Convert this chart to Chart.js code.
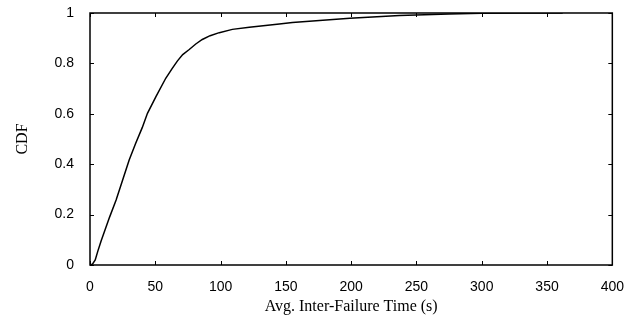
<!DOCTYPE html>
<html>
<head>
<meta charset="utf-8">
<script src="https://cdn.jsdelivr.net/npm/chart.js@4/dist/chart.umd.min.js"></script>
<style>
  html, body { margin: 0; padding: 0; background: #fff; }
  #wrap { width: 630px; height: 320px; }
</style>
</head>
<body>
<div id="wrap"><canvas id="cdf-chart"></canvas></div>
<script>
// CDF of avg inter-failure time
const failTimes = [0.8, 2, 4, 6, 8.5, 15, 20, 25, 30, 35, 40, 44, 50.5, 58, 63, 67, 71, 76, 81, 86, 92, 99, 109, 122, 145, 155, 199, 237, 275, 300, 330, 362];
const cdfValues = [0, 0.004, 0.02, 0.055, 0.095, 0.19, 0.258, 0.337, 0.417, 0.483, 0.545, 0.602, 0.668, 0.741, 0.78, 0.81, 0.835, 0.855, 0.877, 0.895, 0.91, 0.922, 0.935, 0.943, 0.956, 0.962, 0.979, 0.99, 0.996, 0.999, 1, 1];
const xTicks = [0, 50, 100, 150, 200, 250, 300, 350, 400];
const yTicks = [0, 0.2, 0.4, 0.6, 0.8, 1];

// box around the plot with inward ticks on every side (gnuplot look)
const frameBox = {
    id: 'frameBox',
    afterDraw(chart) {
        const { ctx, chartArea: a, scales } = chart;
        const len = 4;
        ctx.save();
        ctx.strokeStyle = '#000';
        ctx.lineWidth = 1;
        ctx.beginPath();
        xTicks.forEach(v => {
            const px = Math.round(scales.x.getPixelForValue(v)) + 0.5;
            ctx.moveTo(px, a.bottom); ctx.lineTo(px, a.bottom - len);
            ctx.moveTo(px, a.top); ctx.lineTo(px, a.top + len);
        });
        yTicks.forEach(v => {
            const py = Math.round(scales.y.getPixelForValue(v)) + 0.5;
            ctx.moveTo(a.left, py); ctx.lineTo(a.left + len, py);
            ctx.moveTo(a.right, py); ctx.lineTo(a.right - len, py);
        });
        ctx.stroke();
        ctx.lineWidth = 1.5;
        ctx.strokeRect(a.left, a.top, a.right - a.left, a.bottom - a.top);
        ctx.restore();
    }
};

new Chart(document.getElementById('cdf-chart'), {
    type: 'line',
    data: {
        datasets: [{
            data: failTimes.map((t, i) => ({ x: t, y: cdfValues[i] })),
            borderColor: '#000',
            borderWidth: 1.5,
            pointRadius: 0,
            tension: 0,
            fill: false
        }]
    },
    options: {
        responsive: true,
        maintainAspectRatio: false,
        animation: false,
        layout: { padding: { left: 0, top: 13, right: 16, bottom: 0 } },
        plugins: {
            legend: { display: false },
            tooltip: { enabled: false }
        },
        scales: {
            x: {
                type: 'linear',
                min: 0,
                max: 400,
                afterBuildTicks: s => { s.ticks = xTicks.map(v => ({ value: v })); },
                afterFit: s => { s.height = 55; },
                grid: { display: false },
                border: { display: false },
                ticks: {
                    color: '#000',
                    padding: 6,
                    font: { family: 'Liberation Sans', size: 14 }
                },
                title: {
                    display: true,
                    text: 'Avg. Inter-Failure Time (s)',
                    color: '#000',
                    padding: { top: 0 },
                    font: { family: 'Liberation Serif', size: 16 }
                }
            },
            y: {
                min: 0,
                max: 1,
                afterBuildTicks: s => { s.ticks = yTicks.map(v => ({ value: v })); },
                afterFit: s => { s.width = 90; s.paddingTop = 0; s.paddingBottom = 0; },
                grid: { display: false },
                border: { display: false },
                ticks: {
                    color: '#000',
                    padding: 8,
                    callback: v => String(v),
                    font: { family: 'Liberation Sans', size: 14 }
                },
                title: {
                    display: true,
                    text: 'CDF',
                    color: '#000',
                    padding: { top: 13 },
                    font: { family: 'Liberation Serif', size: 16 }
                }
            }
        }
    },
    plugins: [frameBox]
});
</script>
</body>
</html>
